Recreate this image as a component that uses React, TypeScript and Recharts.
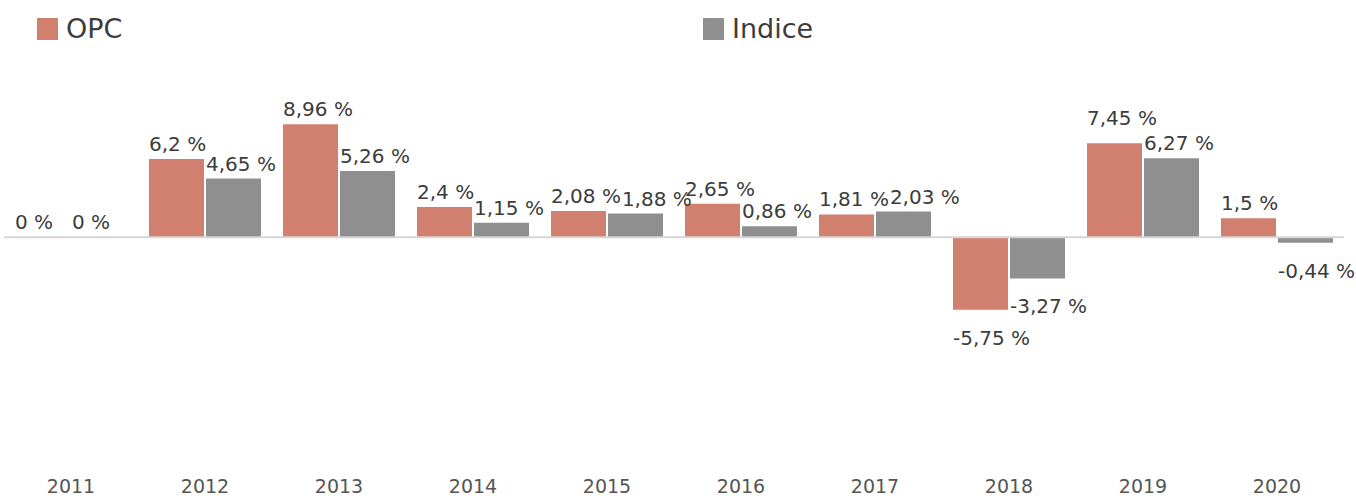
import React from "react";
import { BarChart, Bar, XAxis, YAxis, ReferenceLine, LabelList } from "recharts";

const years = ["2011", "2012", "2013", "2014", "2015", "2016", "2017", "2018", "2019", "2020"];
const opc = [0, 6.2, 8.96, 2.4, 2.08, 2.65, 1.81, -5.75, 7.45, 1.5];
const indice = [0, 4.65, 5.26, 1.15, 1.88, 0.86, 2.03, -3.27, 6.27, -0.44];

const OPC_COLOR = "#d17f6e";
const INDICE_COLOR = "#8f8f8f";
const FONT = "'DejaVu Sans', sans-serif";
const LABEL_SIZE = 20;
const TEXT_COLOR = "#3c3c3c";

const W = 1356;
const H = 498;
const TOP = 86;
const LEFT = 4;
const RIGHT = 12;
const AXIS_H = 34;
const Y_MIN = -18;
const Y_MAX = 12;
const BAR_GAP = 2;
const CAT_GAP = 11;
const PX = (H - TOP - AXIS_H) / (Y_MAX - Y_MIN); // pixels per percent
const BAND = (W - LEFT - RIGHT) / years.length;
const BAR_W = (BAND - 2 * CAT_GAP - BAR_GAP) / 2;

const data = years.map((year, i) => ({ year, opc: opc[i], indice: indice[i] }));

const fmt = (v: number) => `${String(v).replace(".", ",")} %`;

// rough DejaVu Sans advance widths (em)
const CHAR_W: Record<string, number> = { ",": 0.318, " ": 0.318, "%": 0.95, "-": 0.361 };
const textWidth = (s: string) =>
  s.split("").reduce((t, c) => t + (CHAR_W[c] ?? 0.636), 0) * LABEL_SIZE;

const baseline = (v: number) => (v >= 0 ? -v * PX - 8 : -v * PX + 35);

// small collision handling between the two labels of one year
function layoutPair(i: number) {
  const a = opc[i];
  const b = indice[i];
  let dxB = 0;
  let dyA = 0;
  const overlapX = textWidth(fmt(a)) - (BAR_W + BAR_GAP);
  if (a > 0 && b > 0 && overlapX > 5) {
    const dy = Math.abs(baseline(a) - baseline(b));
    if (dy < LABEL_SIZE * 0.45) dxB = 1; // push Indice label right of OPC label
    else if (dy < LABEL_SIZE * 0.85 && a > b) dyA = baseline(b) - 25 - baseline(a); // lift OPC label
  }
  return { dxB, dyA };
}

function makeLabel(series: "opc" | "indice") {
  return function BarLabel(props: any) {
    const { x, y, height, value } = props;
    const idx = Math.floor((x - LEFT) / BAND);
    const top = Math.min(y, y + height);
    const bottom = Math.max(y, y + height);
    let tx = x;
    let ty = value >= 0 ? top - 8 : bottom + 35;
    const { dxB, dyA } = layoutPair(idx);
    if (series === "opc") ty += dyA;
    if (series === "indice" && dxB) {
      const opcX = x - BAR_W - BAR_GAP;
      tx = Math.max(x, opcX + textWidth(fmt(opc[idx])) + 1);
    }
    return (
      <text x={tx} y={ty} fill={TEXT_COLOR} fontSize={LABEL_SIZE} fontFamily={FONT} textAnchor="start">
        {fmt(value)}
      </text>
    );
  };
}

// zero values still need an (invisible) bar so the label is drawn
const minSize = (v: number) => (v === 0 ? 0.01 : 0);

function LegendItem({ color, label, left }: { color: string; label: string; left: number }) {
  return (
    <div style={{ position: "absolute", left, top: 18, display: "flex", alignItems: "center" }}>
      <span style={{ width: 21, height: 22, background: color, display: "inline-block" }} />
      <span style={{ marginLeft: 8, fontSize: 27, color: TEXT_COLOR, fontFamily: FONT, lineHeight: "22px" }}>
        {label}
      </span>
    </div>
  );
}

export default function App() {
  return (
    <div style={{ position: "absolute", left: 0, top: 0, width: W, height: H, background: "#fff" }}>
      <LegendItem color={OPC_COLOR} label="OPC" left={37} />
      <LegendItem color={INDICE_COLOR} label="Indice" left={703} />
      <BarChart
        width={W}
        height={H}
        data={data}
        margin={{ top: TOP, right: RIGHT, bottom: 0, left: LEFT }}
        barCategoryGap={CAT_GAP}
        barGap={BAR_GAP}
      >
        <XAxis
          dataKey="year"
          axisLine={false}
          tickLine={false}
          height={AXIS_H}
          tickMargin={10}
          tick={{ fill: "#555", fontSize: 19, fontFamily: FONT }}
          interval={0}
        />
        <YAxis hide domain={[Y_MIN, Y_MAX]} />
        <ReferenceLine y={0} stroke="#d6d6d6" strokeWidth={2} />
        <Bar dataKey="opc" fill={OPC_COLOR} minPointSize={minSize} isAnimationActive={false}>
          <LabelList dataKey="opc" content={makeLabel("opc")} />
        </Bar>
        <Bar dataKey="indice" fill={INDICE_COLOR} minPointSize={minSize} isAnimationActive={false}>
          <LabelList dataKey="indice" content={makeLabel("indice")} />
        </Bar>
      </BarChart>
    </div>
  );
}
